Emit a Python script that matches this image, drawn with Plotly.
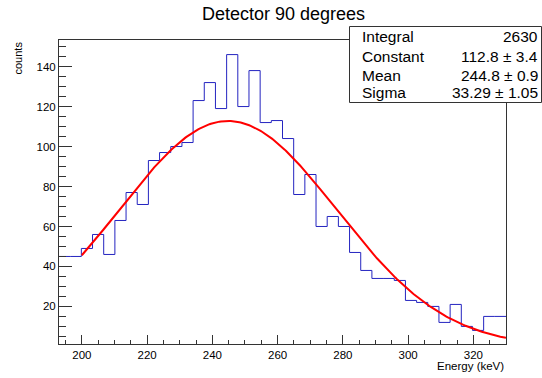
import numpy as np
import plotly.graph_objects as go

# ---------------- data ----------------
x_min, x_max = 193.0, 330.0
n_bins = 40
counts = [45, 45, 49, 56, 46, 63, 77, 71, 93, 97,
          100, 102, 123, 132, 119, 146, 120, 138, 112, 113,
          104, 76, 86, 60, 65, 60, 47, 38, 34, 34,
          33, 23, 22, 20, 12, 21, 10, 8, 15, 15]
fit_constant = 112.8
fit_mean = 244.8
fit_sigma = 33.29
fit_range = [200.0, 330.0]
stat_names = ["Integral", "Constant", "Mean", "Sigma"]
stat_values = ["2630", "112.8 \u00b1 3.4", "244.8 \u00b1 0.9", "33.29 \u00b1 1.05"]
x_ticks = [200, 220, 240, 260, 280, 300, 320]
y_ticks = [20, 40, 60, 80, 100, 120, 140]

# ---------------- figure ----------------
W, H = 542, 378
L, R, T, B = 59, 36, 40, 34
PW, PH = W - L - R, H - T - B

edges = np.linspace(x_min, x_max, n_bins + 1)
step_x = list(edges)
step_y = list(counts) + [counts[-1]]

fx = np.linspace(fit_range[0], fit_range[1], 300)
fy = fit_constant * np.exp(-0.5 * ((fx - fit_mean) / fit_sigma) ** 2)

FONT = "Liberation Sans, Arial, Helvetica, sans-serif"

fig = go.Figure()
fig.add_trace(go.Scatter(x=step_x, y=step_y, mode="lines", line=dict(color="#2424c0", width=1, shape="hv"),
                         hoverinfo="skip", showlegend=False))
fig.add_trace(go.Scatter(x=fx, y=fy, mode="lines", line=dict(color="#ff0000", width=2),
                         hoverinfo="skip", showlegend=False))


def px2paper_x(px):
    return (px - L) / PW


def px2paper_y(py):
    return (H - B - py) / PH


shapes = [dict(type="rect", xref="paper", yref="paper",
               x0=px2paper_x(349.5), x1=px2paper_x(541.5),
               y0=px2paper_y(102.5), y1=px2paper_y(26.5),
               line=dict(color="#333333", width=1), fillcolor="white", layer="above")]

annotations = []
row_y = [36, 56.5, 75.5, 93]
for name, val, yy in zip(stat_names, stat_values, row_y):
    annotations.append(dict(text=name, xref="paper", yref="paper", x=px2paper_x(360), y=px2paper_y(yy),
                            xanchor="left", yanchor="middle", showarrow=False,
                            font=dict(family=FONT, size=15.5, color="black")))
    annotations.append(dict(text=val, xref="paper", yref="paper", x=px2paper_x(540), y=px2paper_y(yy),
                            xanchor="right", yanchor="middle", showarrow=False,
                            font=dict(family=FONT, size=15.5, color="black")))

annotations.append(dict(text="Detector 90 degrees", xref="paper", yref="paper",
                        x=px2paper_x(283), y=px2paper_y(14), xanchor="center", yanchor="middle",
                        showarrow=False, font=dict(family=FONT, size=18, color="black")))
annotations.append(dict(text="counts", xref="paper", yref="paper", textangle=-90,
                        x=px2paper_x(17), y=px2paper_y(40), xanchor="center", yanchor="top",
                        showarrow=False, font=dict(family=FONT, size=11, color="black")))
annotations.append(dict(text="Energy (keV)", xref="paper", yref="paper",
                        x=px2paper_x(506), y=px2paper_y(366), xanchor="right", yanchor="middle",
                        showarrow=False, font=dict(family=FONT, size=11.5, color="black")))

fig.update_layout(
    width=W, height=H,
    margin=dict(l=L, r=R, t=T, b=B, pad=0),
    paper_bgcolor="white", plot_bgcolor="white",
    shapes=shapes, annotations=annotations,
    font=dict(family=FONT, color="black"),
    xaxis=dict(range=[x_min, x_max], tickmode="array", tickvals=x_ticks,
               ticks="inside", ticklen=9, tickcolor="#333333", tickwidth=1,
               minor=dict(ticks="inside", dtick=5, tick0=0, ticklen=4.5, tickcolor="#333333", tickwidth=1),
               showgrid=False, zeroline=False, showline=True, mirror=True,
               linecolor="#333333", linewidth=1,
               tickfont=dict(family=FONT, size=11.5, color="black")),
    yaxis=dict(range=[1.2, 153.3], tickmode="array", tickvals=y_ticks,
               ticks="inside", ticklen=13, tickcolor="#333333", tickwidth=1,
               minor=dict(ticks="inside", dtick=5, tick0=0, ticklen=6.5, tickcolor="#333333", tickwidth=1),
               showgrid=False, zeroline=False, showline=True, mirror=True,
               linecolor="#333333", linewidth=1,
               tickfont=dict(family=FONT, size=11.5, color="black")),
)

fig.write_html("out.html")
